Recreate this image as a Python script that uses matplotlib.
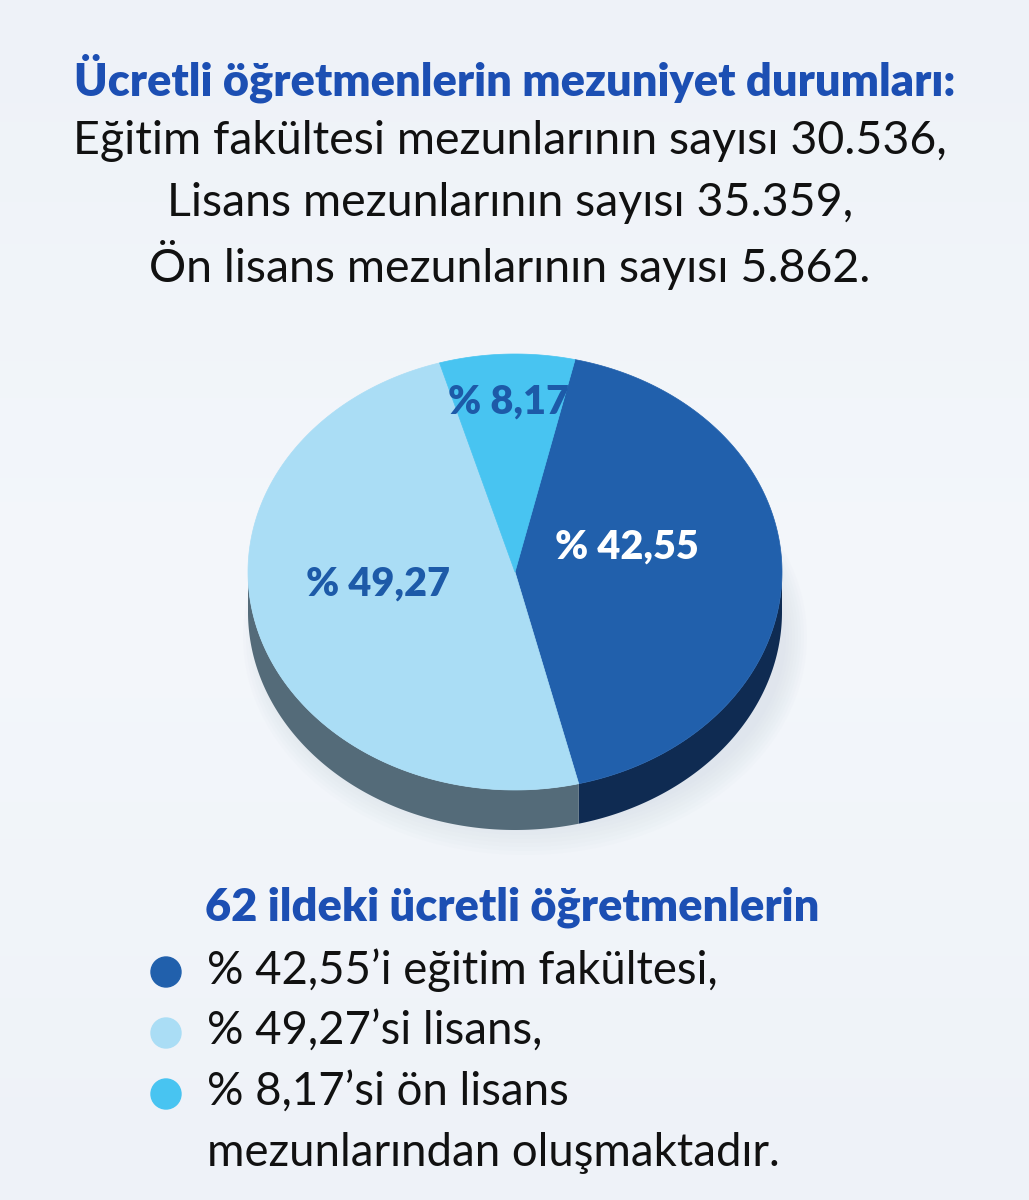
import numpy as np
import matplotlib.pyplot as plt
from matplotlib.colors import LinearSegmentedColormap
from matplotlib.patches import Polygon, Circle, Ellipse

# data
slice_labels = ["% 42,55", "% 49,27", "% 8,17"]
shares = [42.55, 49.27, 8.17]
top_colors = ["#2160AC", "#AADDF5", "#48C4F1"]
side_colors = ["#0F2B52", "#546B79", "#3AA8D8"]
label_colors = ["white", "#1D5AA8", "#1D5AA8"]

title = "Ücretli öğretmenlerin mezuniyet durumları:"
sub_lines = ["Eğitim fakültesi mezunlarının sayısı 30.536,",
             "Lisans mezunlarının sayısı 35.359,",
             "Ön lisans mezunlarının sayısı 5.862."]
legend_title = "62 ildeki ücretli öğretmenlerin"
legend_lines = ["% 42,55’i eğitim fakültesi,",
                "% 49,27’si lisans,",
                "% 8,17’si ön lisans"]
legend_tail = "mezunlarından oluşmaktadır."

BLUE = "#1C4FB3"
BODY = dict(color="#111111", fontweight="normal", family="Lato", va="center")
HEAD = dict(color=BLUE, fontweight="heavy", family="Lato", va="center")

fig = plt.figure(figsize=(10.29, 12), dpi=100)
ax = fig.add_axes([0, 0, 1, 1])
ax.set_xlim(0, 1029)
ax.set_ylim(1200, 0)
ax.axis("off")

# soft background
grad = np.linspace(0, 1, 256).reshape(-1, 1)
ax.imshow(grad, extent=[0, 1029, 1200, 0], aspect="auto", zorder=0,
          cmap=LinearSegmentedColormap.from_list("bg", ["#EEF2F8", "#F4F7FB", "#EEF2F8"]))

# pie geometry (pixel space)
cx, cy, a, b, depth = 515, 572, 267, 218, 40
start = 13.0

def edge(t0, t1, n=200):
    t = np.radians(np.linspace(t0, t1, n))
    return cx + a * np.sin(t), cy - b * np.cos(t)

# shadow
for k in range(8):
    ax.add_patch(Ellipse((cx + 10, cy + depth + 25), 2 * a + 30 - k * 6, 2 * b - k * 8,
                         color="#C9D3E0", alpha=0.06, lw=0, zorder=1))

bounds = start + 360 * np.concatenate([[0], np.cumsum(shares)]) / np.sum(shares)

# sides (only the lower half is visible)
for i in range(len(shares)):
    t0, t1 = bounds[i], bounds[i + 1]
    lo, hi = max(t0, 90), min(t1, 270)
    if hi > lo:
        x, y = edge(lo, hi)
        pts = np.column_stack([np.r_[x, x[::-1]], np.r_[y, (y + depth)[::-1]]])
        ax.add_patch(Polygon(pts, closed=True, fc=side_colors[i], ec="none", zorder=2))

# top faces
for i in range(len(shares)):
    x, y = edge(bounds[i], bounds[i + 1])
    pts = np.column_stack([np.r_[cx, x], np.r_[cy, y]])
    ax.add_patch(Polygon(pts, closed=True, fc=top_colors[i], ec=top_colors[i], lw=0.5, zorder=3))

# slice labels
label_r = [0.42, 0.53, 0.78]
label_dy = [-24, -18, 0]
for i in range(len(shares)):
    mid = np.radians((bounds[i] + bounds[i + 1]) / 2)
    lx = cx + a * label_r[i] * np.sin(mid)
    ly = cy - b * label_r[i] * np.cos(mid) + label_dy[i]
    ax.text(lx, ly, slice_labels[i], color=label_colors[i], fontsize=28.5, fontweight="heavy",
            family="Lato", ha="center", va="center", zorder=4)

# header text
ax.text(515, 78, title, fontsize=32.5, ha="center", **HEAD)
for j, line in enumerate(sub_lines):
    ax.text(510, 141 + j * 62, line, fontsize=33.5, ha="center", **BODY)

# legend block
ax.text(205, 907, legend_title, fontsize=32.5, ha="left", **HEAD)
for j, line in enumerate(legend_lines):
    yy = 970 + j * 61
    ax.add_patch(Circle((166, yy + 2), 15, color=top_colors[j], zorder=3))
    ax.text(207, yy, line, fontsize=32.8, ha="left", **BODY)
ax.text(207, 1153, legend_tail, fontsize=32.8, ha="left", **BODY)

fig.savefig("out.png", dpi=100)
